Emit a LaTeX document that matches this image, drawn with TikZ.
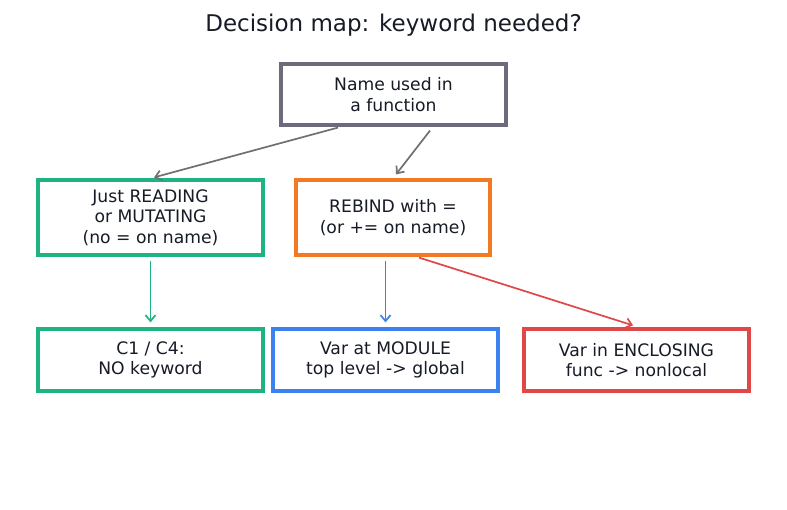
\documentclass[tikz,border=0pt]{standalone}
\usepackage{fontspec}
\setmainfont{DejaVu Sans}
\usetikzlibrary{arrows.meta}
\definecolor{cgray}{HTML}{6B6B7B}
\definecolor{agray}{HTML}{707070}
\definecolor{cgreen}{HTML}{1DB383}
\definecolor{corange}{HTML}{F37A22}
\definecolor{cblue}{HTML}{3B82F0}
\definecolor{cred}{HTML}{E04848}
\definecolor{ctext}{HTML}{161B26}
\tikzset{
  box/.style={draw, line width=3.2pt, fill=white, inner sep=0pt, align=center,
    text=ctext, font=\fontsize{17.2}{20.5}\selectfont},
  conn/.style={line width=1.7pt, -{Straight Barb[length=6pt,width=10pt,line width=1.7pt]}},
}
\begin{document}
\begin{tikzpicture}[x=1pt,y=-1pt]
\useasboundingbox[fill=white] (0,0) rectangle (787,510);
\node[text=ctext, font=\fontsize{23}{27}\selectfont] (title) at (393.5,25) {Decision map: keyword needed?};
\node[box, draw=cgray, minimum width=225pt, minimum height=61pt] (top) at (393.5,94.5) {Name used in\\a function};
\node[box, draw=cgreen, minimum width=225pt, minimum height=75pt] (read) at (150.5,217.5) {Just READING\\or MUTATING\\(no = on name)};
\node[box, draw=corange, minimum width=194pt, minimum height=75pt] (rebind) at (393,217.5) {REBIND with =\\(or += on name)};
\node[box, draw=cgreen, minimum width=225pt, minimum height=62pt] (none) at (150.5,360) {C1 / C4:\\NO keyword};
\node[box, draw=cblue, minimum width=225pt, minimum height=62pt] (glob) at (385.5,360) {Var at MODULE\\top level -> global};
\node[box, draw=cred, minimum width=225pt, minimum height=62pt] (nonl) at (636.5,360) {Var in ENCLOSING\\func -> nonlocal};
\draw[conn, agray] ([xshift=-55.5pt,yshift=-1pt]top.south) -- ([xshift=3.5pt,yshift=1pt]read.north);
\draw[conn, agray] ([xshift=36.5pt,yshift=-4pt]top.south) -- ([xshift=3pt,yshift=4pt]rebind.north);
\draw[conn, cgreen] ([yshift=-4pt]read.south) -- ([yshift=5pt]none.north);
\draw[conn, cblue] ([xshift=-7.5pt,yshift=-4pt]rebind.south) -- ([yshift=5pt]glob.north);
\draw[conn, cred] ([xshift=26pt,yshift=-1pt]rebind.south) -- ([xshift=-3.5pt,yshift=2pt]nonl.north);
\end{tikzpicture}
\end{document}
